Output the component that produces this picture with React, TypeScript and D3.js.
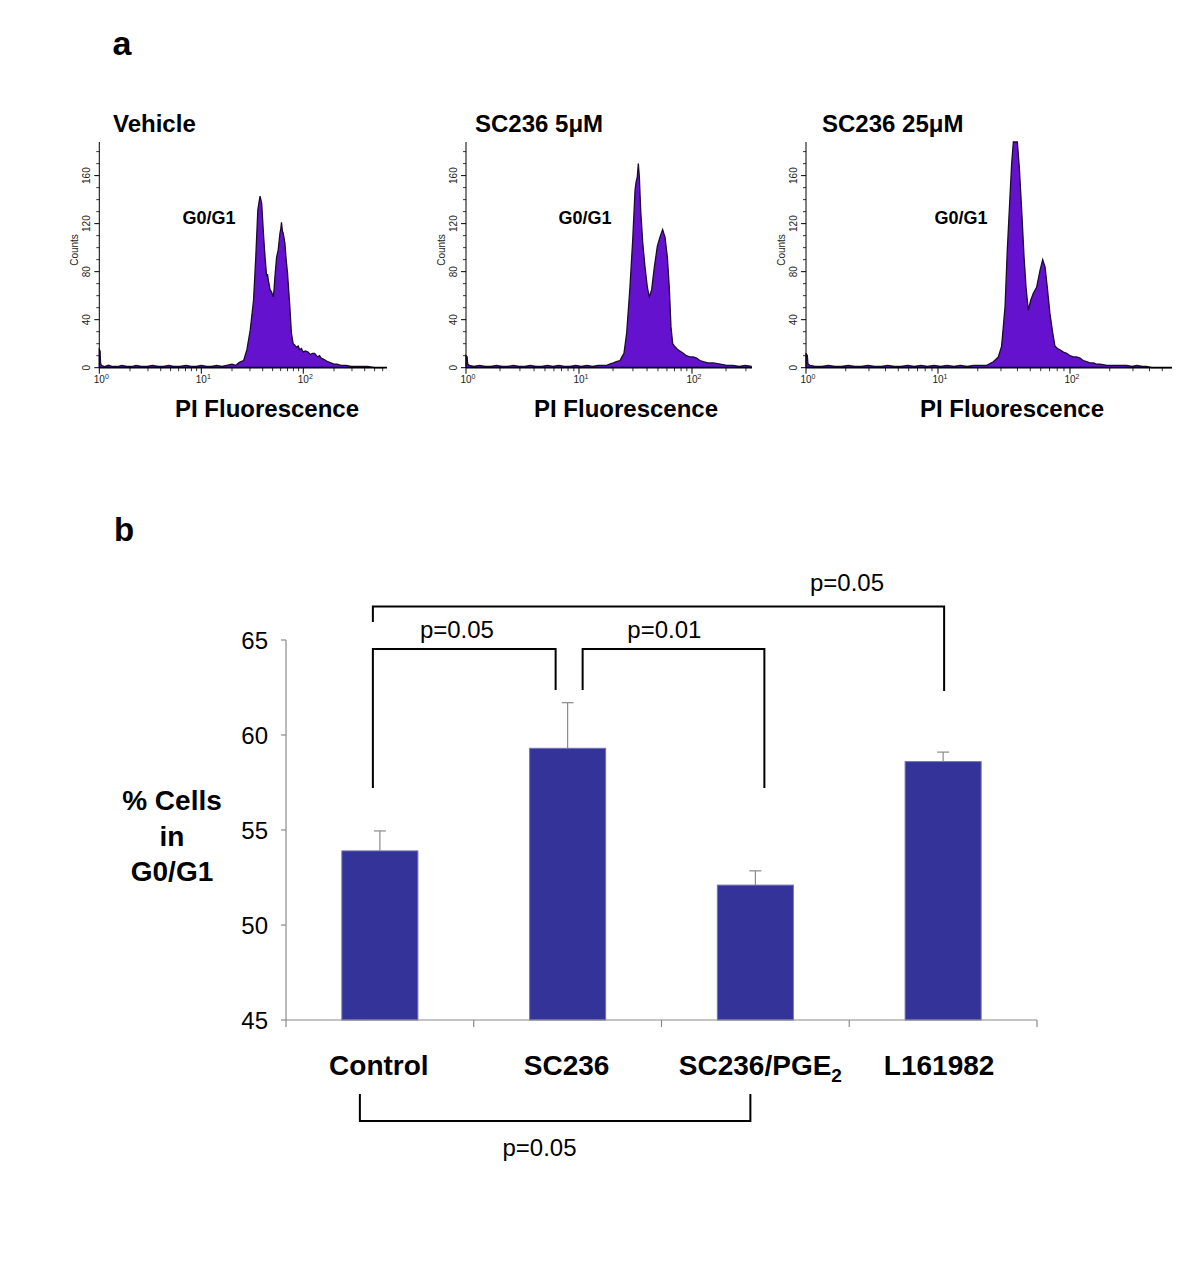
import React from 'react';
import * as d3 from 'd3';

// ---------- Panel a: histogram data, [log10 PI fluorescence, counts] ----------
const histVehicle: [number, number][] = [
  [0, 0], [0, 15], [0.008, 14], [0.012, 4], [0.02, 2], [0.05, 1], [0.09, 2], [0.13, 1], [0.18, 1], [0.22, 2],
  [0.27, 1], [0.32, 1], [0.36, 2], [0.41, 1], [0.47, 1], [0.52, 2], [0.58, 1], [0.63, 1], [0.68, 2], [0.73, 1],
  [0.79, 1], [0.85, 2], [0.9, 1], [0.95, 1], [1.0, 2], [1.05, 1], [1.1, 1], [1.15, 2], [1.2, 1], [1.25, 2],
  [1.3, 3], [1.34, 2], [1.366, 4], [1.39, 5], [1.415, 6], [1.447, 15], [1.479, 31], [1.512, 56], [1.534, 92],
  [1.554, 131], [1.566, 138], [1.576, 143], [1.584, 140], [1.592, 137], [1.609, 112], [1.625, 92], [1.633, 84],
  [1.641, 76], [1.649, 78], [1.657, 73], [1.674, 65], [1.689, 63], [1.706, 59], [1.714, 66], [1.722, 76],
  [1.738, 92], [1.754, 98], [1.771, 112], [1.78, 116], [1.786, 121], [1.795, 114], [1.803, 112], [1.819, 104],
  [1.832, 90], [1.845, 79], [1.868, 51], [1.883, 29], [1.9, 20], [1.915, 19], [1.932, 17], [1.95, 18],
  [1.965, 15], [1.981, 16], [2.0, 13], [2.02, 14], [2.046, 13], [2.07, 11], [2.09, 12], [2.111, 12], [2.14, 9],
  [2.16, 10], [2.175, 8], [2.2, 7], [2.22, 6], [2.24, 5], [2.27, 4], [2.3, 3], [2.33, 3], [2.369, 2], [2.42, 2],
  [2.47, 1], [2.531, 1], [2.58, 1], [2.63, 1], [2.7, 0], [2.79, 0],
];

const histSC5: [number, number][] = [
  [0, 0], [0, 10], [0.01, 9], [0.015, 3], [0.03, 2], [0.07, 1], [0.12, 2], [0.17, 1], [0.22, 1], [0.27, 2],
  [0.32, 1], [0.37, 1], [0.42, 2], [0.47, 1], [0.52, 1], [0.57, 2], [0.62, 1], [0.67, 1], [0.72, 2], [0.77, 1],
  [0.82, 2], [0.87, 1], [0.92, 1], [0.97, 2], [1.02, 1], [1.07, 2], [1.12, 1], [1.17, 2], [1.21, 2], [1.245, 2],
  [1.27, 3], [1.304, 4], [1.33, 5], [1.363, 6], [1.38, 9], [1.398, 12], [1.422, 29], [1.451, 67], [1.475, 106],
  [1.496, 148], [1.506, 155], [1.516, 159], [1.525, 170], [1.534, 159], [1.546, 131], [1.564, 104], [1.584, 84],
  [1.605, 67], [1.622, 59], [1.633, 62], [1.643, 65], [1.667, 84], [1.693, 101], [1.717, 109], [1.74, 115],
  [1.75, 112], [1.761, 109], [1.782, 92], [1.799, 67], [1.814, 34], [1.829, 20], [1.845, 18], [1.864, 16],
  [1.89, 14], [1.923, 12], [1.95, 10], [1.982, 9], [2.01, 9], [2.041, 8], [2.07, 6], [2.1, 5], [2.14, 4],
  [2.189, 4], [2.25, 3], [2.307, 2], [2.36, 2], [2.42, 1], [2.47, 2], [2.528, 1],
];

const histSC25: [number, number][] = [
  [0, 0], [0, 12], [0.01, 10], [0.015, 3], [0.03, 2], [0.07, 1], [0.12, 1], [0.17, 2], [0.22, 1], [0.27, 1],
  [0.32, 2], [0.37, 1], [0.42, 1], [0.47, 2], [0.52, 1], [0.57, 1], [0.62, 2], [0.67, 1], [0.72, 1], [0.77, 2],
  [0.82, 1], [0.87, 2], [0.92, 1], [0.97, 2], [1.02, 1], [1.07, 2], [1.12, 1], [1.17, 2], [1.22, 1], [1.27, 2],
  [1.32, 2], [1.369, 2], [1.419, 5], [1.457, 9], [1.482, 18], [1.508, 51], [1.525, 98], [1.54, 131], [1.558, 170],
  [1.571, 190], [1.601, 190], [1.616, 167], [1.634, 131], [1.652, 92], [1.667, 67], [1.684, 48], [1.702, 56],
  [1.722, 62], [1.747, 67], [1.773, 81], [1.793, 90], [1.811, 84], [1.828, 67], [1.848, 45], [1.869, 29],
  [1.886, 18], [1.905, 16], [1.924, 15], [1.95, 13], [1.975, 12], [2.0, 10], [2.025, 9], [2.05, 9], [2.076, 8],
  [2.1, 6], [2.126, 5], [2.15, 4], [2.177, 4], [2.2, 3], [2.227, 3], [2.28, 2], [2.328, 2], [2.38, 2],
  [2.429, 2], [2.47, 1], [2.505, 2], [2.55, 1], [2.581, 1], [2.62, 0], [2.77, 0],
];

const panelTitles = ['Vehicle', 'SC236 5\u03bcM', 'SC236 25\u03bcM'];
const countTicks = [0, 40, 80, 120, 160];
const decadeTicks = [0, 1, 2];

// ---------- Panel b: bar data ----------
const categories = ['Control', 'SC236', 'SC236/PGE2', 'L161982'];
const means = [53.9, 59.3, 52.1, 58.6];
const errors = [1.05, 2.4, 0.75, 0.5];
const yTicks = [45, 50, 55, 60, 65];

// significance brackets (values in % units; dx are pixel nudges)
const brackets = [
  { from: 0, to: 3, y: 66.76, fromEnd: 65.95, toEnd: 62.32, dxFrom: -7, dxTo: 1, label: 'p=0.05', lf: 0.83, ldy: -16 },
  { from: 0, to: 1, y: 64.53, fromEnd: 57.21, toEnd: 62.37, dxFrom: -7, dxTo: -12, label: 'p=0.05', lf: 0.46, ldy: -11 },
  { from: 1, to: 2, y: 64.53, fromEnd: 62.37, toEnd: 57.21, dxFrom: 15, dxTo: 9, label: 'p=0.01', lf: 0.45, ldy: -11 },
  { from: 0, to: 2, y: 39.68, fromEnd: 41.1, toEnd: 41.1, dxFrom: -20, dxTo: -5, label: 'p=0.05', lf: 0.46, ldy: 35 },
];

const FONT = '"Liberation Sans", Arial, Helvetica, sans-serif';

type Layout = { axisX: number; endX: number; ppd: number; titleX: number; g0X: number; piX: number };
const layouts: Layout[] = [
  { axisX: 99.3, endX: 387, ppd: 102, titleX: 113, g0X: 209, piX: 267 },
  { axisX: 466, endX: 752, ppd: 113, titleX: 475, g0X: 585, piX: 626 },
  { axisX: 806, endX: 1172, ppd: 132, titleX: 822, g0X: 961, piX: 1012 },
];
const histData = [histVehicle, histSC5, histSC25];

function Histogram({ idx }: { idx: number }) {
  const L = layouts[idx];
  const data = histData[idx];
  const baseY = 367.7;
  const topY = 142;
  const maxLog = (L.endX - L.axisX) / L.ppd;
  const x = d3.scaleLog().domain([1, Math.pow(10, maxLog)]).range([L.axisX, L.endX]);
  const y = d3.scaleLinear().domain([0, 188]).range([baseY, topY]).clamp(true);
  const area = d3
    .area<[number, number]>()
    .x((d) => x(Math.pow(10, d[0])))
    .y0(baseY)
    .y1((d) => y(d[1]));
  const line = d3
    .line<[number, number]>()
    .x((d) => x(Math.pow(10, d[0])))
    .y((d) => y(d[1]));
  const minor: number[] = [];
  for (const dec of decadeTicks) {
    for (let k = 2; k <= 9; k++) {
      const v = k * Math.pow(10, dec);
      if (v <= Math.pow(10, maxLog)) minor.push(v);
    }
  }
  const minorY: number[] = d3.range(0, 181, 10).filter((v) => !countTicks.includes(v));
  return (
    <g>
      <text x={L.titleX} y={131.5} fontFamily={FONT} fontWeight="bold" fontSize={24}>
        {panelTitles[idx]}
      </text>
      <path d={area(data) || ''} fill="#6512cf" />
      <path d={line(data) || ''} fill="none" stroke="#1b0b30" strokeWidth={1.3} />
      {/* y axis */}
      <line x1={L.axisX} x2={L.axisX} y1={topY} y2={baseY} stroke="#000" strokeWidth={1} />
      {countTicks.map((v) => (
        <g key={'ct' + v}>
          <line x1={L.axisX - 5} x2={L.axisX} y1={y(v)} y2={y(v)} stroke="#000" strokeWidth={1} />
          <text
            transform={`translate(${L.axisX - 9},${y(v)}) rotate(-90)`}
            textAnchor="middle"
            fontFamily={FONT}
            fontSize={10}
            fill="#222"
          >
            {v}
          </text>
        </g>
      ))}
      {minorY.map((v) => (
        <line key={'my' + v} x1={L.axisX - 3} x2={L.axisX} y1={y(v)} y2={y(v)} stroke="#000" strokeWidth={0.8} />
      ))}
      <text
        transform={`translate(${L.axisX - 21},250) rotate(-90)`}
        textAnchor="middle"
        fontFamily={FONT}
        fontSize={10}
        fill="#222"
      >
        Counts
      </text>
      {/* x axis */}
      <line x1={L.axisX} x2={L.endX} y1={baseY} y2={baseY} stroke="#000" strokeWidth={1.8} />
      {decadeTicks.map((dec) => (
        <g key={'dt' + dec}>
          <line x1={x(Math.pow(10, dec))} x2={x(Math.pow(10, dec))} y1={baseY} y2={baseY + 6} stroke="#000" strokeWidth={1} />
          <text x={x(Math.pow(10, dec)) + 2} y={383} textAnchor="middle" fontFamily={FONT} fontSize={10} fill="#222">
            10
            <tspan dy={-4} fontSize={7}>
              {dec}
            </tspan>
          </text>
        </g>
      ))}
      {minor.map((v) => (
        <line key={'mx' + v} x1={x(v)} x2={x(v)} y1={baseY} y2={baseY + 3.5} stroke="#000" strokeWidth={0.8} />
      ))}
      <text x={L.g0X} y={224} textAnchor="middle" fontFamily={FONT} fontWeight="bold" fontSize={18}>
        G0/G1
      </text>
      <text x={L.piX} y={416.5} textAnchor="middle" fontFamily={FONT} fontWeight="bold" fontSize={24}>
        PI Fluorescence
      </text>
    </g>
  );
}

function BarChart() {
  const x = d3.scaleBand<number>().domain(d3.range(categories.length)).range([286, 1037]).padding(0);
  const y = d3.scaleLinear().domain([45, 65]).range([1020, 640]);
  const barW = x.bandwidth() * 0.405;
  const cx = (i: number) => (x(i) as number) + x.bandwidth() / 2;
  return (
    <g>
      {/* bars */}
      {means.map((m, i) => (
        <rect
          key={'bar' + i}
          x={cx(i) - barW / 2}
          y={y(m)}
          width={barW}
          height={y(45) - y(m)}
          fill="#333399"
          stroke="#7474ae"
          strokeWidth={1}
        />
      ))}
      {/* error bars */}
      {means.map((m, i) => (
        <g key={'err' + i} stroke="#8a8a8a" strokeWidth={1.2}>
          <line x1={cx(i)} x2={cx(i)} y1={y(m)} y2={y(m + errors[i])} />
          <line x1={cx(i) - 6} x2={cx(i) + 6} y1={y(m + errors[i])} y2={y(m + errors[i])} />
        </g>
      ))}
      {/* y axis */}
      <line x1={286} x2={286} y1={y(65)} y2={y(45)} stroke="#8a8a8a" strokeWidth={1.2} />
      {yTicks.map((t) => (
        <g key={'yt' + t}>
          <line x1={281} x2={286} y1={y(t)} y2={y(t)} stroke="#8a8a8a" strokeWidth={1.2} />
          <text x={268} y={y(t) + 8.5} textAnchor="end" fontFamily={FONT} fontSize={24}>
            {t}
          </text>
        </g>
      ))}
      {/* x axis */}
      <line x1={286} x2={1037} y1={y(45)} y2={y(45)} stroke="#8a8a8a" strokeWidth={1.2} />
      {d3.range(categories.length + 1).map((i) => {
        const px = i < categories.length ? (x(i) as number) : 1037;
        return <line key={'xt' + i} x1={px} x2={px} y1={y(45)} y2={y(45) + 7} stroke="#8a8a8a" strokeWidth={1.2} />;
      })}
      {categories.map((c, i) =>
        c === 'SC236/PGE2' ? (
          <text key={'cl' + i} x={cx(i) + 5} y={1075} textAnchor="middle" fontFamily={FONT} fontWeight="bold" fontSize={28}>
            SC236/PGE
            <tspan dy={7} fontSize={19}>
              2
            </tspan>
          </text>
        ) : (
          <text key={'cl' + i} x={cx(i) - (i === 3 ? 4 : 1)} y={1075} textAnchor="middle" fontFamily={FONT} fontWeight="bold" fontSize={28}>
            {c}
          </text>
        )
      )}
      {/* y label */}
      {['% Cells', 'in', 'G0/G1'].map((s, i) => (
        <text key={'yl' + i} x={172} y={810 + i * 35.5} textAnchor="middle" fontFamily={FONT} fontWeight="bold" fontSize={28}>
          {s}
        </text>
      ))}
      {/* significance brackets */}
      {brackets.map((b, i) => {
        const x1 = cx(b.from) + b.dxFrom;
        const x2 = cx(b.to) + b.dxTo;
        const yy = y(b.y);
        return (
          <g key={'br' + i}>
            <path
              d={`M${x1},${y(b.fromEnd)}V${yy}H${x2}V${y(b.toEnd)}`}
              fill="none"
              stroke="#000"
              strokeWidth={2}
            />
            <text
              x={x1 + (x2 - x1) * b.lf}
              y={yy + b.ldy}
              textAnchor="middle"
              fontFamily={FONT}
              fontSize={24}
            >
              {b.label}
            </text>
          </g>
        );
      })}
    </g>
  );
}

export default function App() {
  return (
    <svg
      width={1200}
      height={1287}
      viewBox="0 0 1200 1287"
      style={{ position: 'absolute', left: 0, top: 0, background: '#fff' }}
    >
      <rect x={0} y={0} width={1200} height={1287} fill="#fff" />
      <text x={122} y={55} textAnchor="middle" fontFamily={FONT} fontWeight="bold" fontSize={34}>
        a
      </text>
      {layouts.map((_, i) => (
        <Histogram key={i} idx={i} />
      ))}
      <text x={124} y={541} textAnchor="middle" fontFamily={FONT} fontWeight="bold" fontSize={33}>
        b
      </text>
      <BarChart />
    </svg>
  );
}
